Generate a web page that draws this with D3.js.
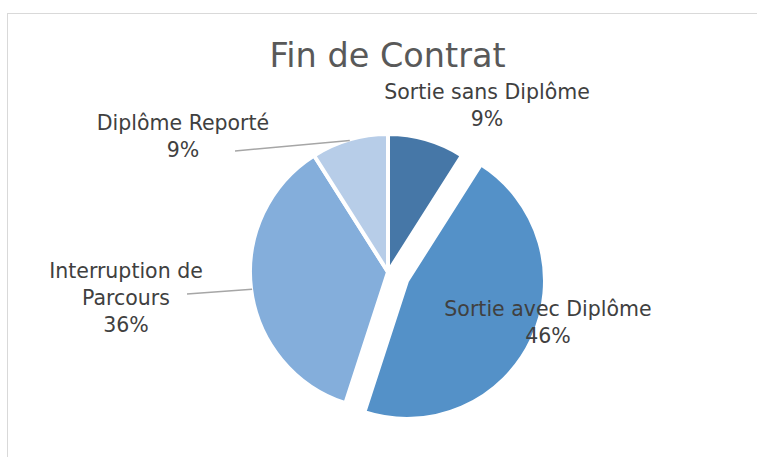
<!DOCTYPE html>
<html>
<head>
<meta charset="utf-8">
<script src="https://cdn.jsdelivr.net/npm/d3@7"></script>
<style>
  html, body { margin: 0; padding: 0; background: #fff; }
  svg { display: block; }
</style>
</head>
<body>
<svg id="chart" width="757" height="457"></svg>
<script>
// ---- data ----
const title = "Fin de Contrat";
const categories = ["Sortie sans Diplôme", "Sortie avec Diplôme", "Interruption de Parcours", "Diplôme Reporté"];
const values = [9, 46, 36, 9];
const colors = ["#4677A7", "#5491C8", "#84AEDB", "#B7CDE8"];
const exploded = [false, true, false, false];

// ---- layout ----
const W = 757, H = 457;
const cx = 388, cy = 272, R = 138, explodeDist = 21;
const fontFam = "'DejaVu Sans', sans-serif";
const labelFont = 20.5, lineH = 27;
// label anchor (center x, first baseline y) and leader-line end (or null)
const labelLayout = [
  { x: 487, y: 99, leader: null },
  { x: 548, y: 316, leader: null },
  { x: 126, y: 278, leader: [187, 294] },
  { x: 183, y: 130, leader: [235, 151] }
];

const svg = d3.select("#chart");

// chart area border
svg.append("rect")
  .attr("x", 7.5).attr("y", 13.5)
  .attr("width", W + 20).attr("height", H + 20)
  .attr("fill", "#fff").attr("stroke", "#D9D9D9").attr("stroke-width", 1);

// title
svg.append("text")
  .attr("x", 387.5).attr("y", 67)
  .attr("text-anchor", "middle")
  .attr("font-family", fontFam)
  .attr("font-size", 33.5)
  .attr("fill", "#595959")
  .text(title);

const total = d3.sum(values);
const pie = d3.pie().sort(null).value(d => d.value).startAngle(0).endAngle(2 * Math.PI);
const arcs = pie(categories.map((c, i) => ({ name: c, value: values[i], color: colors[i], exploded: exploded[i], i })));
const arc = d3.arc().innerRadius(0).outerRadius(R);

const g = svg.append("g").attr("transform", `translate(${cx},${cy})`);

g.selectAll("path.slice")
  .data(arcs)
  .join("path")
  .attr("class", "slice")
  .attr("d", arc)
  .attr("transform", d => {
    if (!d.data.exploded) return null;
    const a = (d.startAngle + d.endAngle) / 2;
    return `translate(${Math.sin(a) * explodeDist},${-Math.cos(a) * explodeDist})`;
  })
  .attr("fill", d => d.data.color)
  .attr("stroke", "#fff")
  .attr("stroke-width", 4)
  .attr("stroke-linejoin", "miter");

// leader lines
arcs.forEach((d, i) => {
  const L = labelLayout[i];
  if (!L.leader) return;
  const a = (d.startAngle + d.endAngle) / 2;
  const px = cx + Math.sin(a) * (R - 1);
  const py = cy - Math.cos(a) * (R - 1);
  svg.append("line")
    .attr("x1", L.leader[0]).attr("y1", L.leader[1])
    .attr("x2", px).attr("y2", py)
    .attr("stroke", "#A6A6A6").attr("stroke-width", 1.5);
});

// labels
const pct = d3.format(".0%");
const maxW = 230;
arcs.forEach((d, i) => {
  const L = labelLayout[i];
  const t = svg.append("text")
    .attr("text-anchor", "middle")
    .attr("font-family", fontFam)
    .attr("font-size", labelFont)
    .attr("fill", "#404040");
  // word-wrap the category name
  const words = d.data.name.split(" ");
  const lines = [];
  let cur = "";
  const probe = t.append("tspan");
  words.forEach(w => {
    const test = cur ? cur + " " + w : w;
    probe.text(test);
    if (probe.node().getComputedTextLength() > maxW && cur) {
      lines.push(cur); cur = w;
    } else cur = test;
  });
  lines.push(cur);
  probe.remove();
  lines.push(pct(d.data.value / total));
  lines.forEach((ln, k) => {
    t.append("tspan").attr("x", L.x).attr("y", L.y + k * lineH).text(ln);
  });
});
</script>
</body>
</html>
